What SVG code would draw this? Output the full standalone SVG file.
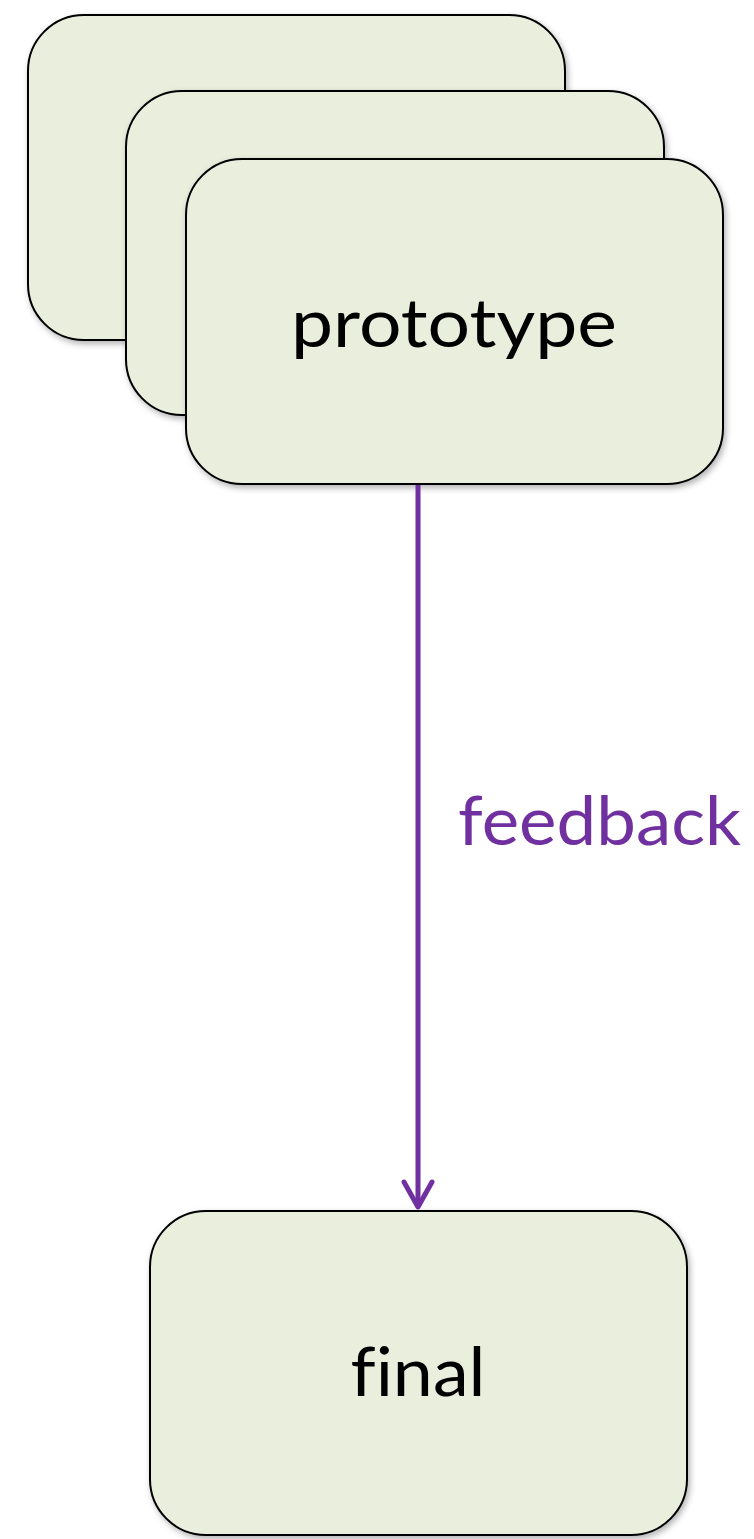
<svg xmlns="http://www.w3.org/2000/svg" width="754" height="1539" viewBox="0 0 754 1539">
<style>
.box{fill:#EAEEDD;stroke:#000;stroke-width:2;filter:url(#sh)}
.lbl{font-family:Lato,"Noto Sans",sans-serif;font-size:68px;fill:#000;text-anchor:middle;font-variant-ligatures:none}
.fb{font-family:Lato,"Noto Sans",sans-serif;font-size:68px;fill:#7030A0;font-variant-ligatures:none}
.conn{stroke:#7030A0;stroke-width:5;fill:none}
</style>
<defs>
<filter id="sh" x="-10%" y="-10%" width="120%" height="120%">
<feDropShadow dx="2" dy="3" stdDeviation="3" flood-color="#000" flood-opacity="0.3"/>
</filter>
</defs>
<rect width="754" height="1539" fill="#fff"/>
<g id="proto-back"><rect class="box" x="28" y="15" width="537" height="325" rx="56" ry="56"/></g>
<g id="proto-mid"><rect class="box" x="126" y="91" width="538" height="324" rx="56" ry="56"/></g>
<g id="prototype"><rect class="box" x="186" y="159" width="537" height="325" rx="56" ry="56"/><text class="lbl" x="454" y="347" textLength="326" lengthAdjust="spacingAndGlyphs">prototype</text></g>
<g id="final"><rect class="box" x="150" y="1211" width="537" height="324" rx="56" ry="56"/><text class="lbl" x="418" y="1396" textLength="135" lengthAdjust="spacingAndGlyphs">final</text></g>
<g id="connectors">
<line class="conn" x1="418" y1="485" x2="418" y2="1205"/>
<polyline class="conn" stroke-linecap="round" stroke-linejoin="round" points="404,1182 418,1207 432,1182" stroke-width="6"/>
<text class="fb" x="458" y="845" textLength="283" lengthAdjust="spacingAndGlyphs">feedback</text>
</g>
</svg>
